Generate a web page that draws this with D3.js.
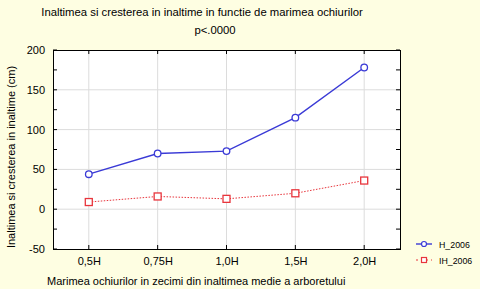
<!DOCTYPE html>
<html>
<head>
<meta charset="utf-8">
<script src="https://cdn.jsdelivr.net/npm/d3@7"></script>
<style>
  body { margin: 0; background: #fefee2; }
  svg { display: block; font-family: "Liberation Sans", Arial, sans-serif; }
</style>
</head>
<body>
<script>
const categories = ["0,5H", "0,75H", "1,0H", "1,5H", "2,0H"];
const h2006 = [44, 70, 73, 115, 178];
const ih2006 = [9, 16, 13, 20, 36];
const yTicks = [-50, 0, 50, 100, 150, 200];

const width = 480, height = 289;
const plot = { left: 53, right: 400, top: 50, bottom: 249 };

const svg = d3.select("body").append("svg")
  .attr("width", width)
  .attr("height", height);

svg.append("rect")
  .attr("width", width).attr("height", height)
  .attr("fill", "#fefee2");

const x = d3.scalePoint()
  .domain(categories)
  .range([plot.left, plot.right])
  .padding(0.52);

const y = d3.scaleLinear()
  .domain([-50, 200])
  .range([plot.bottom, plot.top]);

// plot background
svg.append("rect")
  .attr("x", plot.left).attr("y", plot.top)
  .attr("width", plot.right - plot.left)
  .attr("height", plot.bottom - plot.top)
  .attr("fill", "#ffffff");

// grid
const grid = svg.append("g");
grid.selectAll(".hg")
  .data(yTicks.slice(1, -1))
  .enter().append("line")
  .attr("x1", plot.left).attr("x2", plot.right)
  .attr("y1", (d) => y(d)).attr("y2", (d) => y(d))
  .attr("stroke", "#dcdcdc").attr("stroke-width", 1);
grid.selectAll(".vg")
  .data(categories)
  .enter().append("line")
  .attr("x1", (d) => x(d)).attr("x2", (d) => x(d))
  .attr("y1", plot.top).attr("y2", plot.bottom)
  .attr("stroke", "#dcdcdc").attr("stroke-width", 1);

// axes
const yAxis = d3.axisLeft(y)
  .tickValues(yTicks)
  .tickFormat((d) => String(d))
  .tickSize(0)
  .tickPadding(8);
svg.append("g")
  .attr("transform", `translate(${plot.left},0)`)
  .call(yAxis)
  .call((g) => g.select(".domain").remove())
  .call((g) => g.selectAll("text").attr("font-size", 11).attr("fill", "#000"));

const xAxis = d3.axisBottom(x).tickSize(0).tickPadding(8);
svg.append("g")
  .attr("transform", `translate(0,${plot.bottom})`)
  .call(xAxis)
  .call((g) => g.select(".domain").remove())
  .call((g) => g.selectAll("text").attr("font-size", 11).attr("fill", "#000"));

// inner ticks (major and minor)
const yMinor = d3.range(-50, 201, 25);
svg.append("g").selectAll("line")
  .data(yMinor)
  .enter().append("line")
  .attr("x1", plot.left).attr("x2", plot.left + 4)
  .attr("y1", (d) => y(d)).attr("y2", (d) => y(d))
  .attr("stroke", "#000");
svg.append("g").selectAll("line")
  .data(yMinor)
  .enter().append("line")
  .attr("x1", plot.right).attr("x2", plot.right - 4)
  .attr("y1", (d) => y(d)).attr("y2", (d) => y(d))
  .attr("stroke", "#000");
svg.append("g").selectAll("line")
  .data(categories)
  .enter().append("line")
  .attr("x1", (d) => x(d)).attr("x2", (d) => x(d))
  .attr("y1", plot.top).attr("y2", plot.top + 4)
  .attr("stroke", "#000");
svg.append("g").selectAll("line")
  .data(categories)
  .enter().append("line")
  .attr("x1", (d) => x(d)).attr("x2", (d) => x(d))
  .attr("y1", plot.bottom).attr("y2", plot.bottom - 4)
  .attr("stroke", "#000");

// frame
svg.append("rect")
  .attr("x", plot.left + 0.5).attr("y", plot.top + 0.5)
  .attr("width", plot.right - plot.left)
  .attr("height", plot.bottom - plot.top)
  .attr("fill", "none")
  .attr("stroke", "#000").attr("stroke-width", 1);

// series
const line = d3.line()
  .x((d, i) => x(categories[i]))
  .y((d) => y(d));

svg.append("path")
  .datum(ih2006)
  .attr("d", line)
  .attr("fill", "none")
  .attr("stroke", "#e8353c")
  .attr("stroke-width", 1)
  .attr("stroke-dasharray", "1.5,1.5");

svg.append("g").selectAll("rect")
  .data(ih2006)
  .enter().append("rect")
  .attr("x", (d, i) => x(categories[i]) - 3.5)
  .attr("y", (d) => y(d) - 3.5)
  .attr("width", 7).attr("height", 7)
  .attr("fill", "#fff")
  .attr("stroke", "#e8353c").attr("stroke-width", 1.3);

svg.append("path")
  .datum(h2006)
  .attr("d", line)
  .attr("fill", "none")
  .attr("stroke", "#3a3ad6")
  .attr("stroke-width", 1.4);

svg.append("g").selectAll("circle")
  .data(h2006)
  .enter().append("circle")
  .attr("cx", (d, i) => x(categories[i]))
  .attr("cy", (d) => y(d))
  .attr("r", 3.3)
  .attr("fill", "#fff")
  .attr("stroke", "#3a3ad6").attr("stroke-width", 1.3);

// titles
svg.append("text")
  .attr("x", 202).attr("y", 16)
  .attr("text-anchor", "middle")
  .attr("font-size", 11.3)
  .text("Inaltimea si cresterea in inaltime in functie de marimea ochiurilor");

svg.append("text")
  .attr("x", 215).attr("y", 34)
  .attr("text-anchor", "middle")
  .attr("font-size", 11.3)
  .text("p<.0000");

svg.append("text")
  .attr("transform", `translate(15,157) rotate(-90)`)
  .attr("text-anchor", "middle")
  .attr("font-size", 11)
  .text("Inaltimea si cresterea in inaltime (cm)");

svg.append("text")
  .attr("x", 47).attr("y", 285)
  .attr("font-size", 11)
  .text("Marimea ochiurilor in zecimi din inaltimea medie a arboretului");

// legend
const legend = svg.append("g");
legend.append("line")
  .attr("x1", 416).attr("x2", 432).attr("y1", 244).attr("y2", 244)
  .attr("stroke", "#3a3ad6").attr("stroke-width", 1.4);
legend.append("circle")
  .attr("cx", 424).attr("cy", 244).attr("r", 2.5)
  .attr("fill", "#fff").attr("stroke", "#3a3ad6").attr("stroke-width", 1.2);
legend.append("text")
  .attr("x", 439).attr("y", 247.5)
  .attr("font-size", 8.8)
  .text("H_2006");

legend.append("line")
  .attr("x1", 416).attr("x2", 432).attr("y1", 260).attr("y2", 260)
  .attr("stroke", "#e8353c").attr("stroke-width", 1.2)
  .attr("stroke-dasharray", "2,3");
legend.append("rect")
  .attr("x", 421.5).attr("y", 257.5).attr("width", 5).attr("height", 5)
  .attr("fill", "#fff").attr("stroke", "#e8353c").attr("stroke-width", 1.2);
legend.append("text")
  .attr("x", 439).attr("y", 263.5)
  .attr("font-size", 8.8)
  .text("IH_2006");
</script>
</body>
</html>
